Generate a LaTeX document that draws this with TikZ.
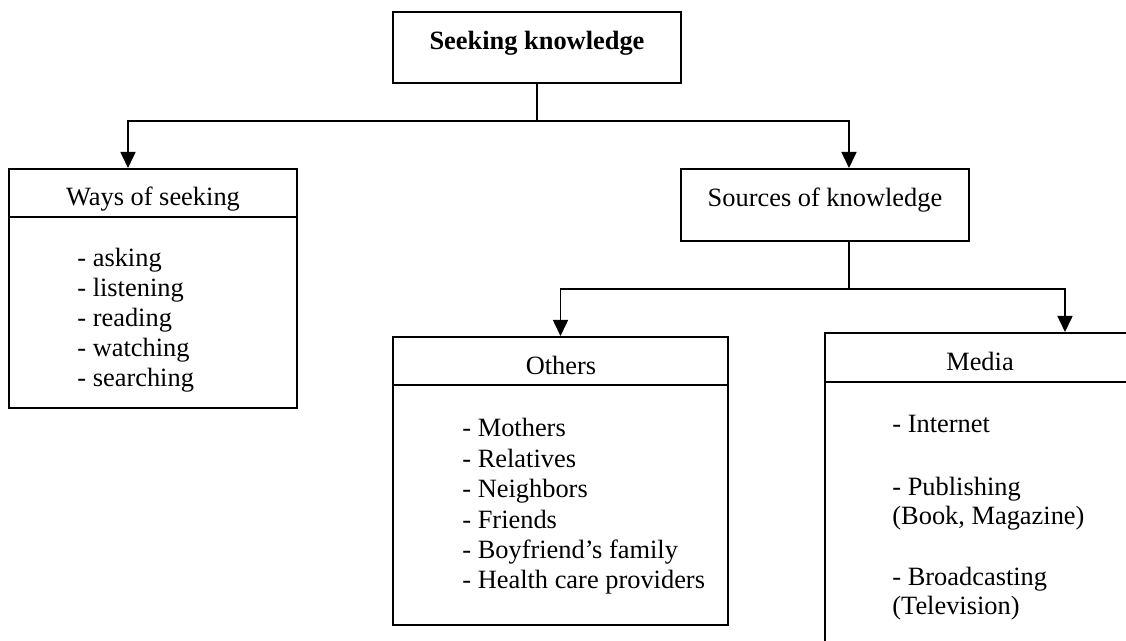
\documentclass[tikz,border=0pt]{standalone}
\usepackage{fontspec}
\setmainfont{Liberation Serif}
\usetikzlibrary{arrows.meta}
\begin{document}
\begin{tikzpicture}[x=0.5pt,y=-0.5pt,
  frame/.style={draw, line width=1pt, rectangle, inner sep=0pt},
  lbl/.style={inner sep=0pt, anchor=base, font=\fontsize{13.2}{15}\selectfont},
  lblb/.style={lbl, font=\fontsize{13.2}{15}\selectfont\bfseries},
  item/.style={inner sep=0pt, anchor=base west, font=\fontsize{13.2}{15}\selectfont},
  link/.style={line width=0.8pt},
  tip/.style={link, -{Triangle[length=8pt,width=7.5pt]}},
  rule/.style={line width=1pt}
]
\useasboundingbox (0,0) rectangle (1126,641);
\clip (0,0) rectangle (1126,641);

% boxes
\node[frame, minimum width=144pt, minimum height=35.5pt] (top) at (537,47.5) {};
\node[frame, minimum width=144pt, minimum height=119.5pt] (ways) at (153,288.5) {};
\node[frame, minimum width=144pt, minimum height=36pt] (src) at (825,205) {};
\node[frame, minimum width=167.5pt, minimum height=144pt] (oth) at (560.5,481) {};
\node[frame, minimum width=155pt, minimum height=163.5pt] (med) at (980,496.5) {};

% header dividers
\draw[rule] (9,217) -- (297,217);
\draw[rule] (393,385) -- (728,385);
\draw[rule] (825,382) -- (1135,382);

% titles
\node[lblb] (tt) at (537,50) {Seeking knowledge};
\node[lbl] (wt) at (153,206) {Ways of seeking};
\node[lbl] (st) at (825,207) {Sources of knowledge};
\node[lbl] (ot) at (561,375) {Others};
\node[lbl] (mt) at (980,371) {Media};

% list items
\foreach \t [count=\i] in {asking,listening,reading,watching,searching}
  \node[item] (w\i) at (77,{237+30*\i}) {- \t};
\foreach \t [count=\i] in {Mothers,Relatives,Neighbors,Friends,Boyfriend’s family,Health care providers}
  \node[item] (o\i) at (462,{406.6+30.4*\i}) {- \t};
\node[item] (m1) at (892,433) {- Internet};
\node[item] (m2) at (892,496) {- Publishing};
\node[item] (m3) at (892,525) {(Book, Magazine)};
\node[item] (m4) at (892,586) {- Broadcasting};
\node[item] (m5) at (892,615) {(Television)};

% connectors
\coordinate (j1) at (537,121);
\coordinate (j2) at (849,289);
\draw[link] (top.south) -- (j1);
\draw[tip] (j1) -| ([xshift=-12.5pt]ways.north);
\draw[tip] (j1) -| ([xshift=12pt]src.north);
\draw[link] ([xshift=12pt]src.south) -- (j2);
\draw[tip] (j2) -| (oth.north);
\draw[tip] (j2) -| ([xshift=42.5pt]med.north);
\end{tikzpicture}
\end{document}
